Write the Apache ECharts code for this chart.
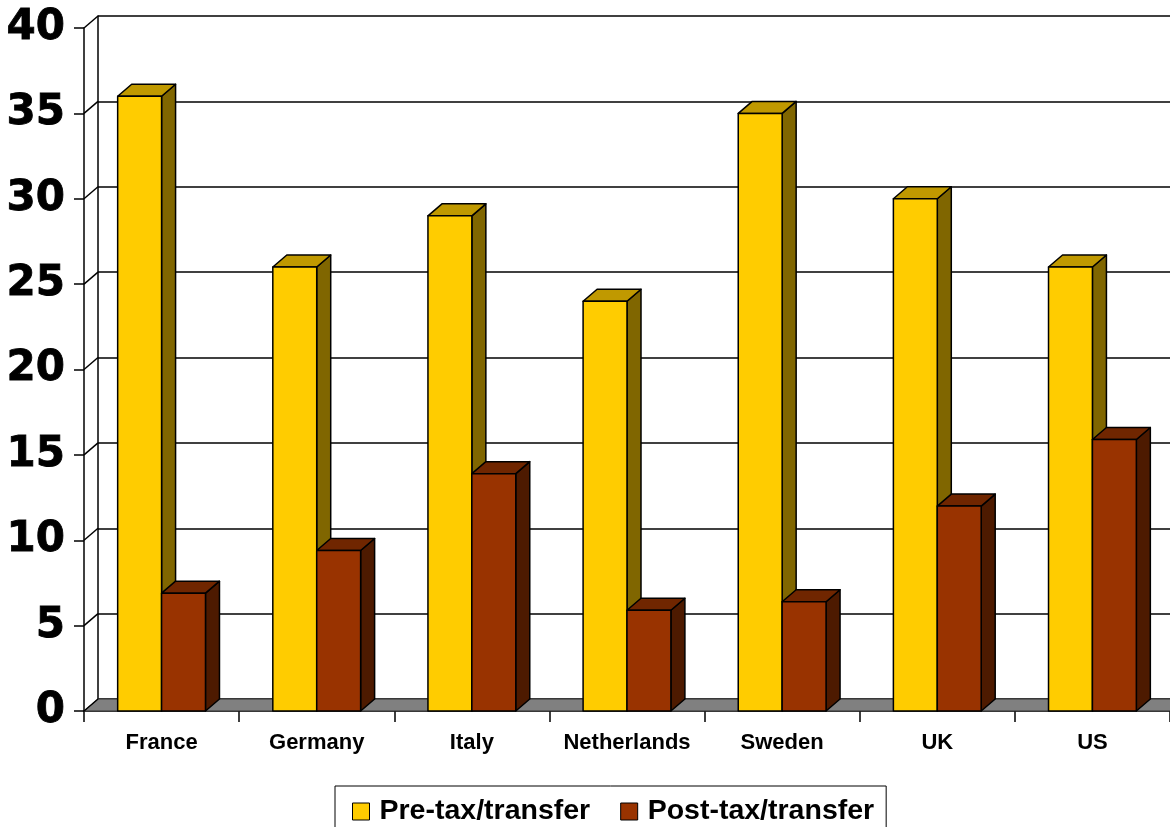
<!DOCTYPE html>
<html>
<head>
<meta charset="utf-8">
<script src="https://cdn.jsdelivr.net/npm/echarts@6/dist/echarts.min.js"></script>
<style>html,body{margin:0;padding:0;background:#fff}#c{width:1170px;height:827px}</style>
</head>
<body>
<div id="c"></div>
<script>
var categories = ['France', 'Germany', 'Italy', 'Netherlands', 'Sweden', 'UK', 'US'];
var preTax = [36, 26, 29, 24, 35, 30, 26];
var postTax = [6.9, 9.4, 13.9, 5.9, 6.4, 12, 15.9];
var yTicks = [0, 5, 10, 15, 20, 25, 30, 35, 40];

var DX = 14, DY = -12;
var BAR_FRAC = 0.283;
var colors = [
  {front: '#FFCC00', top: '#C09900', side: '#806600'},
  {front: '#993300', top: '#702600', side: '#4D1A00'}
];

function barRenderer(s) {
  return function (params, api) {
    var idx = api.value(0), val = api.value(1);
    var catW = api.size([1, 0])[0];
    var bw = catW * BAR_FRAC;
    var c = api.coord([idx, 0]);
    var yTop = api.coord([idx, val])[1];
    var yBot = c[1];
    var l = c[0] - bw + s * bw, r = l + bw;
    var col = colors[s];
    var st = {stroke: '#000', lineWidth: 1.5, lineJoin: 'round'};
    return {
      type: 'group',
      children: [
        {type: 'polygon', shape: {points: [[r, yTop], [r + DX, yTop + DY], [r + DX, yBot + DY], [r, yBot]]},
         style: Object.assign({fill: col.side}, st)},
        {type: 'polygon', shape: {points: [[l, yTop], [l + DX, yTop + DY], [r + DX, yTop + DY], [r, yTop]]},
         style: Object.assign({fill: col.top}, st)},
        {type: 'rect', shape: {x: l, y: yTop, width: bw, height: yBot - yTop},
         style: Object.assign({fill: col.front}, st)}
      ]
    };
  };
}

var chart = echarts.init(document.getElementById('c'), null, {renderer: 'canvas'});
var GL = 84, GT = 28, GW = 155.5 * 7, GH = 683;
chart.setOption({
  animation: false,
  backgroundColor: '#fff',
  legend: {
    left: 335, top: 786,
    padding: [11, 12, 40, 17],
    itemGap: 30, itemWidth: 17, itemHeight: 17,
    borderColor: '#000', borderWidth: 1,
    icon: 'rect',
    itemStyle: {borderColor: '#000', borderWidth: 1},
    textStyle: {fontFamily: 'Liberation Sans', fontWeight: 'bold', fontSize: 28.5, color: '#000', padding: [0, 0, 0, 5]},
    data: ['Pre-tax/transfer', 'Post-tax/transfer']
  },
  grid: [
    {left: GL, top: GT, width: GW, height: GH},
    {left: GL + DX, top: GT + DY, width: GW, height: GH}
  ],
  xAxis: [
    {type: 'category', gridIndex: 0, data: categories,
     axisLine: {show: true, lineStyle: {color: '#000', width: 1.5}},
     axisTick: {show: true, interval: 0, length: 11, lineStyle: {color: '#000', width: 1.5}},
     axisLabel: {interval: 0, fontFamily: 'Liberation Sans', fontWeight: 'bold', fontSize: 22, color: '#000', margin: 21},
     splitLine: {show: false}},
    {type: 'category', gridIndex: 1, data: categories, show: false}
  ],
  yAxis: [
    {type: 'value', gridIndex: 0, min: 0, max: 40, interval: 5,
     axisLine: {show: true, lineStyle: {color: '#000', width: 1.5}},
     axisTick: {show: true, length: 10, lineStyle: {color: '#000', width: 1.5}},
     axisLabel: {fontFamily: 'DejaVu Sans', fontWeight: 'bold', fontSize: 42, color: '#000', margin: 19, padding: [6, 0, 0, 0],
                 textBorderColor: '#000', textBorderWidth: 0.8},
     splitLine: {show: false}},
    {type: 'value', gridIndex: 1, min: 0, max: 40, interval: 5,
     axisLine: {show: true, lineStyle: {color: '#000', width: 1.5}},
     axisTick: {show: false}, axisLabel: {show: false},
     splitLine: {show: true, lineStyle: {color: '#000', width: 1.5}}}
  ],
  series: [
    {
      type: 'custom', name: 'floor', xAxisIndex: 0, yAxisIndex: 0, z: 1, silent: true,
      data: [0],
      renderItem: function (params, api) {
        var cs = params.coordSys;
        var yb = api.coord([0, 0])[1];
        return {type: 'polygon', shape: {points: [[cs.x, yb], [cs.x + DX, yb + DY], [cs.x + cs.width + DX, yb + DY], [cs.x + cs.width, yb]]},
                style: {fill: '#808080', stroke: '#333', lineWidth: 1}};
      }
    },
    {
      type: 'custom', name: 'connectors', xAxisIndex: 0, yAxisIndex: 0, z: 2, silent: true,
      data: yTicks.map(function (v) { return [0, v]; }),
      renderItem: function (params, api) {
        var cs = params.coordSys;
        var y = api.coord([0, api.value(1)])[1];
        return {type: 'line', shape: {x1: cs.x, y1: y, x2: cs.x + DX, y2: y + DY},
                style: {stroke: '#000', lineWidth: 1.5}};
      }
    },
    {
      type: 'custom', name: 'Pre-tax/transfer', xAxisIndex: 0, yAxisIndex: 0, z: 3,
      itemStyle: {color: '#FFCC00'},
      data: preTax.map(function (v, i) { return [i, v]; }),
      renderItem: barRenderer(0)
    },
    {
      type: 'custom', name: 'Post-tax/transfer', xAxisIndex: 0, yAxisIndex: 0, z: 4,
      itemStyle: {color: '#993300'},
      data: postTax.map(function (v, i) { return [i, v]; }),
      renderItem: barRenderer(1)
    }
  ]
});
</script>
</body>
</html>
